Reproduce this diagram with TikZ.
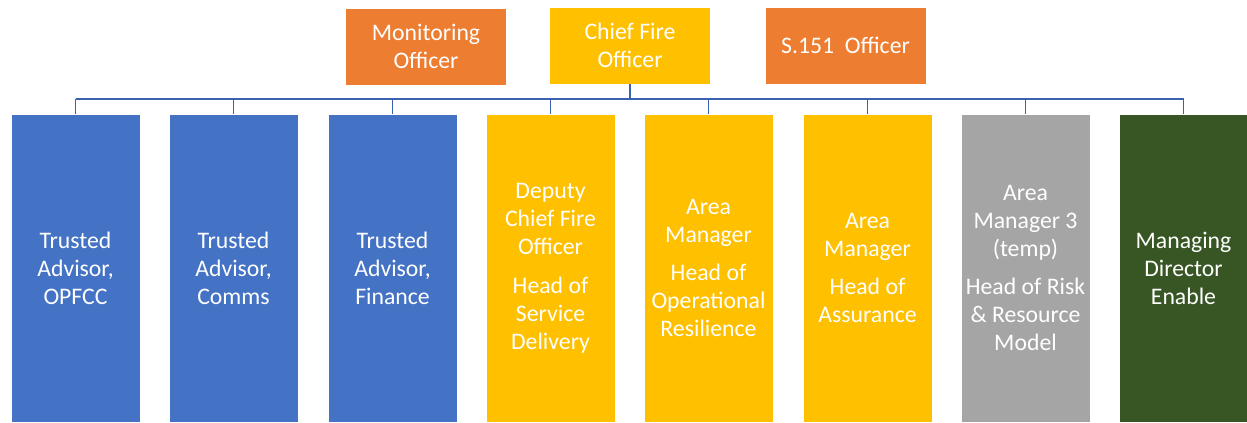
\documentclass[tikz,border=0pt]{standalone}
\usepackage{fontspec}
\setmainfont{Carlito}
\definecolor{ablue}{HTML}{4472C4}
\definecolor{aorange}{HTML}{ED7D31}
\definecolor{agold}{HTML}{FFC000}
\definecolor{agrey}{HTML}{A5A5A5}
\definecolor{agreen}{HTML}{375623}
\definecolor{aline}{HTML}{3A62B0}
\tikzset{
  topbox/.style={draw=white, line width=0.4pt, text=white, align=center,
    minimum width=120.75pt, minimum height=57.75pt, inner sep=2pt,
    font=\fontsize{17.8}{20.5}\selectfont},
  postbox/.style={draw=white, line width=0.4pt, text=white, align=center,
    minimum width=96.75pt, minimum height=231pt, inner sep=1pt,
    font=\fontsize{17.8}{21}\selectfont},
  link/.style={draw=aline, line width=0.8pt}
}
\begin{document}
\begin{tikzpicture}[x=0.75pt, y=-0.75pt]
\useasboundingbox (0,0) rectangle (1247,423);

% 顶部
\node[topbox, fill=aorange] (mo)  at (426,46.5) {Monitoring\\Officer};
\node[topbox, fill=agold]   (cfo) at (630,45.5) {Chief Fire\\Officer};
\node[topbox, fill=aorange] (sfo) at (845.5,45.5) {S.151\ \ Officer};

% 下层岗位
\node[postbox, fill=ablue] (ta1)  at (75.5,268)   {Trusted\\Advisor,\\OPFCC};
\node[postbox, fill=ablue] (ta2)  at (233.5,268)  {Trusted\\Advisor,\\Comms};
\node[postbox, fill=ablue] (ta3)  at (392.5,268)  {Trusted\\Advisor,\\Finance};
\node[postbox, fill=agold] (dcfo) at (550.5,268)  {Deputy\\Chief Fire\\Officer\\[8pt]Head of\\Service\\Delivery};
\node[postbox, fill=agold] (amor) at (708.5,268)  {Area\\Manager\\[8pt]Head of\\Operational\\Resilience};
\node[postbox, fill=agold] (amas) at (867.5,268)  {Area\\Manager\\[8pt]Head of\\Assurance};
\node[postbox, fill=agrey] (am3)  at (1025.5,268) {Area\\Manager 3\\(temp)\\[8pt]Head of Risk\\\& Resource\\Model};
\node[postbox, fill=agreen] (mde) at (1183.5,268) {Managing\\Director\\Enable};

% 连线
\coordinate (bus) at (630,99);
\draw[link] (cfo.south) -- (bus);
\draw[link] (ta1.north |- bus) -- (mde.north |- bus);
\foreach \n in {ta1,ta2,ta3,dcfo,amor,amas,am3,mde}
    \draw[link] (\n.north |- bus) -- (\n.north);
\end{tikzpicture}
\end{document}
